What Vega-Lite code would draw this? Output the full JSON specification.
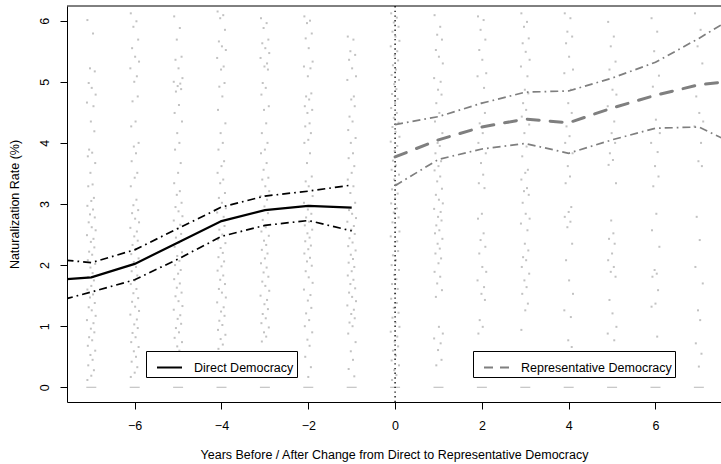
{
  "$schema": "https://vega.github.io/schema/vega-lite/v6.json",
  "width": 654,
  "height": 396,
  "autosize": {"type": "none"},
  "padding": {"left": 67, "top": 6, "right": 0, "bottom": 62},
  "background": "white",
  "config": {
    "view": {"stroke": null},
    "font": "Liberation Sans",
    "axis": {"grid": false, "domainColor": "black", "domainWidth": 1, "tickColor": "black", "tickWidth": 1, "tickSize": 7, "labelColor": "black", "labelFontSize": 12.5, "labelFont": "Liberation Sans", "titleFont": "Liberation Sans", "titleFontSize": 12.5, "titleFontWeight": "normal", "titleColor": "black", "labelFlush": false, "labelOverlap": false, "format": "d"},
    "axisX": {"labelPadding": 10, "titlePadding": 17},
    "axisY": {"labelAngle": -90, "labelAlign": "center", "labelBaseline": "alphabetic", "labelPadding": 12, "titlePadding": 16.5}
  },
  "datasets": {
    "pts": [
{"x":-7.09,"y":6.01},{"x":-6.96,"y":5.79},{"x":-7.03,"y":5.22},{"x":-6.92,"y":5.17},{"x":-7.06,"y":4.98},{"x":-6.99,"y":4.9},{"x":-6.9,"y":4.79},{"x":-7.1,"y":4.66},{"x":-6.95,"y":4.6},{"x":-7.01,"y":4.35},{"x":-6.93,"y":4.19},{"x":-7.05,"y":3.89},{"x":-6.98,"y":3.84},{"x":-7.08,"y":3.78},{"x":-6.91,"y":3.67},{"x":-7.02,"y":3.51},{"x":-6.97,"y":3.32},{"x":-7.07,"y":3.29},{"x":-6.94,"y":3.1},{"x":-7,"y":3.05},
{"x":-7.09,"y":2.97},{"x":-6.96,"y":2.91},{"x":-7.03,"y":2.83},{"x":-6.92,"y":2.78},{"x":-7.06,"y":2.7},{"x":-6.99,"y":2.62},{"x":-6.9,"y":2.57},{"x":-7.1,"y":2.49},{"x":-6.95,"y":2.43},{"x":-7.01,"y":2.38},{"x":-6.93,"y":2.29},{"x":-7.05,"y":2.22},{"x":-6.98,"y":2.17},{"x":-7.08,"y":2.08},{"x":-6.91,"y":2.02},{"x":-7.02,"y":1.96},{"x":-6.97,"y":1.87},{"x":-7.07,"y":1.8},{"x":-6.94,"y":1.75},{"x":-7,"y":1.66},
{"x":-7.09,"y":1.6},{"x":-6.96,"y":1.52},{"x":-7.03,"y":1.47},{"x":-6.92,"y":1.38},{"x":-7.06,"y":1.31},{"x":-6.99,"y":1.26},{"x":-6.9,"y":1.17},{"x":-7.1,"y":1.1},{"x":-6.95,"y":1.05},{"x":-7.01,"y":0.96},{"x":-6.93,"y":0.9},{"x":-7.05,"y":0.82},{"x":-6.98,"y":0.77},{"x":-7.08,"y":0.68},{"x":-6.91,"y":0.6},{"x":-7.02,"y":0.53},{"x":-6.97,"y":0.45},{"x":-7.07,"y":0.36},{"x":-6.94,"y":0.28},{"x":-7,"y":0.19},{"x":-7.09,"y":0.12},
{"x":-6.09,"y":6.12},{"x":-5.96,"y":5.99},{"x":-6.03,"y":5.9},{"x":-5.92,"y":5.69},{"x":-6.06,"y":5.55},{"x":-5.99,"y":5.41},{"x":-5.9,"y":5.33},{"x":-6.1,"y":5.22},{"x":-5.95,"y":5.09},{"x":-6.01,"y":5.0},{"x":-5.93,"y":4.76},{"x":-6.05,"y":4.68},{"x":-5.98,"y":4.35},{"x":-6.08,"y":4.27},{"x":-5.91,"y":4.0},{"x":-6.02,"y":3.94},{"x":-5.97,"y":3.83},{"x":-6.07,"y":3.7},{"x":-5.94,"y":3.51},{"x":-6,"y":3.43},
{"x":-6.09,"y":3.29},{"x":-5.96,"y":3.07},{"x":-6.03,"y":2.98},{"x":-5.92,"y":2.9},{"x":-6.06,"y":2.85},{"x":-5.99,"y":2.76},{"x":-5.9,"y":2.7},{"x":-6.1,"y":2.61},{"x":-5.95,"y":2.55},{"x":-6.01,"y":2.47},{"x":-5.93,"y":2.4},{"x":-6.05,"y":2.33},{"x":-5.98,"y":2.26},{"x":-6.08,"y":2.18},{"x":-5.91,"y":2.11},{"x":-6.02,"y":2.05},{"x":-5.97,"y":1.97},{"x":-6.07,"y":1.9},{"x":-5.94,"y":1.83},{"x":-6,"y":1.75},
{"x":-6.09,"y":1.69},{"x":-5.96,"y":1.61},{"x":-6.03,"y":1.54},{"x":-5.92,"y":1.46},{"x":-6.06,"y":1.4},{"x":-5.99,"y":1.32},{"x":-5.9,"y":1.25},{"x":-6.1,"y":1.19},{"x":-5.95,"y":1.11},{"x":-6.01,"y":1.03},{"x":-5.93,"y":0.97},{"x":-6.05,"y":0.89},{"x":-5.98,"y":0.82},{"x":-6.08,"y":0.74},{"x":-5.91,"y":0.66},{"x":-6.02,"y":0.59},{"x":-5.97,"y":0.5},{"x":-6.07,"y":0.42},{"x":-5.94,"y":0.33},{"x":-6,"y":0.24},{"x":-6.09,"y":0.17},
{"x":-5.09,"y":6.07},{"x":-4.96,"y":5.88},{"x":-5.03,"y":5.69},{"x":-4.92,"y":5.41},{"x":-5.06,"y":5.36},{"x":-4.99,"y":5.22},{"x":-4.9,"y":5.06},{"x":-5.1,"y":5.0},{"x":-4.95,"y":4.97},{"x":-5.01,"y":4.93},{"x":-4.93,"y":4.88},{"x":-5.05,"y":4.84},{"x":-4.98,"y":4.62},{"x":-5.08,"y":4.49},{"x":-4.91,"y":4.35},{"x":-5.02,"y":4.16},{"x":-4.97,"y":4.0},{"x":-5.07,"y":3.89},{"x":-4.94,"y":3.67},{"x":-5,"y":3.51},
{"x":-5.09,"y":3.34},{"x":-4.96,"y":3.21},{"x":-5.03,"y":3.15},{"x":-4.92,"y":3.02},{"x":-5.06,"y":2.95},{"x":-4.99,"y":2.88},{"x":-4.9,"y":2.8},{"x":-5.1,"y":2.73},{"x":-4.95,"y":2.66},{"x":-5.01,"y":2.6},{"x":-4.93,"y":2.51},{"x":-5.05,"y":2.45},{"x":-4.98,"y":2.37},{"x":-5.08,"y":2.3},{"x":-4.91,"y":2.21},{"x":-5.02,"y":2.15},{"x":-4.97,"y":2.07},{"x":-5.07,"y":2.0},{"x":-4.94,"y":1.92},{"x":-5,"y":1.86},
{"x":-5.09,"y":1.77},{"x":-4.96,"y":1.7},{"x":-5.03,"y":1.63},{"x":-4.92,"y":1.55},{"x":-5.06,"y":1.49},{"x":-4.99,"y":1.41},{"x":-4.9,"y":1.33},{"x":-5.1,"y":1.27},{"x":-4.95,"y":1.18},{"x":-5.01,"y":1.12},{"x":-4.93,"y":1.04},{"x":-5.05,"y":0.97},{"x":-4.98,"y":0.9},{"x":-5.08,"y":0.81},{"x":-4.91,"y":0.74},{"x":-5.02,"y":0.67},{"x":-4.97,"y":0.6},
{"x":-4.09,"y":6.15},{"x":-3.96,"y":6.09},{"x":-4.03,"y":6.04},{"x":-3.92,"y":5.85},{"x":-4.06,"y":5.66},{"x":-3.99,"y":5.58},{"x":-3.9,"y":5.52},{"x":-4.1,"y":5.39},{"x":-3.95,"y":5.25},{"x":-4.01,"y":5.2},{"x":-3.93,"y":4.98},{"x":-4.05,"y":4.92},{"x":-3.98,"y":4.76},{"x":-4.08,"y":4.54},{"x":-3.91,"y":4.32},{"x":-4.02,"y":4.16},{"x":-3.97,"y":4.0},{"x":-4.07,"y":3.89},{"x":-3.94,"y":3.7},{"x":-4,"y":3.62},
{"x":-4.09,"y":3.51},{"x":-3.96,"y":3.4},{"x":-4.03,"y":3.34},{"x":-3.92,"y":3.18},{"x":-4.06,"y":3.1},{"x":-3.99,"y":3.02},{"x":-3.9,"y":2.93},{"x":-4.1,"y":2.86},{"x":-3.95,"y":2.79},{"x":-4.01,"y":2.72},{"x":-3.93,"y":2.64},{"x":-4.05,"y":2.58},{"x":-3.98,"y":2.5},{"x":-4.08,"y":2.42},{"x":-3.91,"y":2.36},{"x":-4.02,"y":2.28},{"x":-3.97,"y":2.2},{"x":-4.07,"y":2.13},{"x":-3.94,"y":2.06},{"x":-4,"y":1.98},
{"x":-4.09,"y":1.91},{"x":-3.96,"y":1.83},{"x":-4.03,"y":1.76},{"x":-3.92,"y":1.69},{"x":-4.06,"y":1.61},{"x":-3.99,"y":1.55},{"x":-3.9,"y":1.47},{"x":-4.1,"y":1.39},{"x":-3.95,"y":1.31},{"x":-4.01,"y":1.24},{"x":-3.93,"y":1.17},{"x":-4.05,"y":1.09},{"x":-3.98,"y":1.02},{"x":-4.08,"y":0.94},{"x":-3.91,"y":0.86},{"x":-4.02,"y":0.79},{"x":-3.97,"y":0.7},{"x":-4.07,"y":0.63},
{"x":-3.09,"y":6.04},{"x":-2.96,"y":5.96},{"x":-3.03,"y":5.88},{"x":-2.92,"y":5.69},{"x":-3.06,"y":5.63},{"x":-2.99,"y":5.55},{"x":-2.9,"y":5.47},{"x":-3.1,"y":5.39},{"x":-2.95,"y":5.3},{"x":-3.01,"y":5.25},{"x":-2.93,"y":5.2},{"x":-3.05,"y":4.98},{"x":-2.98,"y":4.9},{"x":-3.08,"y":4.79},{"x":-2.91,"y":4.6},{"x":-3.02,"y":4.54},{"x":-2.97,"y":4.32},{"x":-3.07,"y":4.16},{"x":-2.94,"y":4.0},{"x":-3,"y":3.89},
{"x":-3.09,"y":3.83},{"x":-2.96,"y":3.67},{"x":-3.03,"y":3.56},{"x":-2.92,"y":3.43},{"x":-3.06,"y":3.4},{"x":-2.99,"y":3.29},{"x":-2.9,"y":3.21},{"x":-3.1,"y":3.13},{"x":-2.95,"y":3.07},{"x":-3.01,"y":2.96},{"x":-2.93,"y":2.85},{"x":-3.05,"y":2.74},{"x":-2.98,"y":2.62},{"x":-3.08,"y":2.55},{"x":-2.91,"y":2.48},{"x":-3.02,"y":2.4},{"x":-2.97,"y":2.33},{"x":-3.07,"y":2.25},{"x":-2.94,"y":2.19},{"x":-3,"y":2.11},
{"x":-3.09,"y":2.03},{"x":-2.96,"y":1.96},{"x":-3.03,"y":1.88},{"x":-2.92,"y":1.81},{"x":-3.06,"y":1.73},{"x":-2.99,"y":1.66},{"x":-2.9,"y":1.58},{"x":-3.1,"y":1.5},{"x":-2.95,"y":1.43},{"x":-3.01,"y":1.36},{"x":-2.93,"y":1.28},{"x":-3.05,"y":1.2},{"x":-2.98,"y":1.13},{"x":-3.08,"y":1.05},{"x":-2.91,"y":0.98},{"x":-3.02,"y":0.9},{"x":-2.97,"y":0.83},{"x":-3.07,"y":0.75},
{"x":-2.09,"y":6.07},{"x":-1.96,"y":6.0},{"x":-2.03,"y":5.96},{"x":-1.92,"y":5.79},{"x":-2.06,"y":5.71},{"x":-1.99,"y":5.55},{"x":-1.9,"y":5.33},{"x":-2.1,"y":5.25},{"x":-1.95,"y":5.22},{"x":-2.01,"y":5.09},{"x":-1.93,"y":4.81},{"x":-2.05,"y":4.76},{"x":-1.98,"y":4.71},{"x":-2.08,"y":4.6},{"x":-1.91,"y":4.54},{"x":-2.02,"y":4.49},{"x":-1.97,"y":4.32},{"x":-2.07,"y":4.27},{"x":-1.94,"y":4.16},{"x":-2,"y":4.05},
{"x":-2.09,"y":4.0},{"x":-1.96,"y":3.83},{"x":-2.03,"y":3.67},{"x":-1.92,"y":3.45},{"x":-2.06,"y":3.37},{"x":-1.99,"y":3.29},{"x":-1.9,"y":3.13},{"x":-2.1,"y":3.02},{"x":-1.95,"y":2.97},{"x":-2.01,"y":2.91},{"x":-1.93,"y":2.84},{"x":-2.05,"y":2.78},{"x":-1.98,"y":2.71},{"x":-2.08,"y":2.65},{"x":-1.91,"y":2.58},{"x":-2.02,"y":2.52},{"x":-1.97,"y":2.45},{"x":-2.07,"y":2.39},{"x":-1.94,"y":2.32},{"x":-2,"y":2.26},
{"x":-2.09,"y":2.19},{"x":-1.96,"y":2.12},{"x":-2.03,"y":2.06},{"x":-1.92,"y":1.99},{"x":-2.06,"y":1.9},{"x":-1.99,"y":1.8},{"x":-1.9,"y":1.71},{"x":-2.1,"y":1.6},{"x":-1.95,"y":1.51},{"x":-2.01,"y":1.42},{"x":-1.93,"y":1.3},{"x":-2.05,"y":1.21},{"x":-1.98,"y":1.1},{"x":-2.08,"y":1.0},{"x":-1.91,"y":0.9},{"x":-2.02,"y":0.78},{"x":-1.97,"y":0.68},{"x":-2.07,"y":0.5},{"x":-1.94,"y":0.33},{"x":-2,"y":0.17},
{"x":-1.09,"y":5.74},{"x":-0.96,"y":5.69},{"x":-1.03,"y":5.5},{"x":-0.92,"y":5.44},{"x":-1.06,"y":5.36},{"x":-0.99,"y":5.22},{"x":-0.9,"y":5.09},{"x":-1.1,"y":5.03},{"x":-0.95,"y":4.76},{"x":-1.01,"y":4.71},{"x":-0.93,"y":4.6},{"x":-1.05,"y":4.43},{"x":-0.98,"y":4.35},{"x":-1.08,"y":4.21},{"x":-0.91,"y":4.08},{"x":-1.02,"y":4.0},{"x":-0.97,"y":3.83},{"x":-1.07,"y":3.75},{"x":-0.94,"y":3.62},{"x":-1,"y":3.51},
{"x":-1.09,"y":3.4},{"x":-0.96,"y":3.29},{"x":-1.03,"y":3.18},{"x":-0.92,"y":3.02},{"x":-1.06,"y":2.9},{"x":-0.99,"y":2.84},{"x":-0.9,"y":2.77},{"x":-1.1,"y":2.71},{"x":-0.95,"y":2.64},{"x":-1.01,"y":2.58},{"x":-0.93,"y":2.51},{"x":-1.05,"y":2.44},{"x":-0.98,"y":2.37},{"x":-1.08,"y":2.31},{"x":-0.91,"y":2.24},{"x":-1.02,"y":2.17},{"x":-0.97,"y":2.1},{"x":-1.07,"y":2.04},{"x":-0.94,"y":1.97},{"x":-1,"y":1.9},
{"x":-1.09,"y":1.83},{"x":-0.96,"y":1.76},{"x":-1.03,"y":1.69},{"x":-0.92,"y":1.62},{"x":-1.06,"y":1.55},{"x":-0.99,"y":1.48},{"x":-0.9,"y":1.41},{"x":-1.1,"y":1.34},{"x":-0.95,"y":1.27},{"x":-1.01,"y":1.2},{"x":-0.93,"y":1.13},{"x":-1.05,"y":1.06},{"x":-0.98,"y":1.0},{"x":-1.08,"y":0.88},{"x":-0.91,"y":0.74},{"x":-1.02,"y":0.59},{"x":-0.97,"y":0.45},{"x":-1.07,"y":0.3},{"x":-0.94,"y":0.18},
{"x":-0.09,"y":6.12},{"x":0.04,"y":6.05},{"x":-0.03,"y":5.97},{"x":0.08,"y":5.9},{"x":-0.06,"y":5.82},{"x":0.01,"y":5.74},{"x":0.1,"y":5.67},{"x":-0.1,"y":5.58},{"x":0.05,"y":5.5},{"x":-0.01,"y":5.43},{"x":0.07,"y":5.35},{"x":-0.05,"y":5.27},{"x":0.02,"y":5.2},{"x":-0.08,"y":5.11},{"x":0.09,"y":5.03},{"x":-0.02,"y":4.96},{"x":0.03,"y":4.88},{"x":-0.07,"y":4.8},{"x":0.06,"y":4.72},{"x":0,"y":4.65},
{"x":-0.09,"y":4.57},{"x":0.04,"y":4.49},{"x":-0.03,"y":4.41},{"x":0.08,"y":4.33},{"x":-0.06,"y":4.26},{"x":0.01,"y":4.18},{"x":0.1,"y":4.1},{"x":-0.1,"y":4.02},{"x":0.05,"y":3.95},{"x":-0.01,"y":3.87},{"x":0.07,"y":3.79},{"x":-0.05,"y":3.71},{"x":0.02,"y":3.63},{"x":-0.08,"y":3.56},{"x":0.09,"y":3.48},{"x":-0.02,"y":3.4},{"x":0.03,"y":3.32},{"x":-0.07,"y":3.24},{"x":0.06,"y":3.17},{"x":0,"y":3.09},
{"x":-0.09,"y":3.01},{"x":0.04,"y":2.93},{"x":-0.03,"y":2.86},{"x":0.08,"y":2.78},{"x":-0.06,"y":2.7},{"x":0.01,"y":2.62},{"x":0.1,"y":2.55},{"x":-0.1,"y":2.47},{"x":0.05,"y":2.39},{"x":-0.01,"y":2.31},{"x":0.07,"y":2.23},{"x":-0.05,"y":2.16},{"x":0.02,"y":2.08},{"x":-0.08,"y":2.0},{"x":0.09,"y":1.92},{"x":-0.02,"y":1.84},{"x":0.03,"y":1.77},{"x":-0.07,"y":1.69},{"x":0.06,"y":1.61},{"x":0,"y":1.53},
{"x":-0.09,"y":1.45},{"x":0.04,"y":1.38},{"x":-0.03,"y":1.3},{"x":0.08,"y":1.22},{"x":-0.06,"y":1.14},{"x":0.01,"y":1.06},{"x":0.1,"y":0.99},{"x":-0.1,"y":0.91},{"x":0.05,"y":0.83},{"x":-0.01,"y":0.75},{"x":0.07,"y":0.67},{"x":-0.05,"y":0.6},{"x":0.02,"y":0.52},{"x":-0.08,"y":0.44},{"x":0.09,"y":0.36},{"x":-0.02,"y":0.28},{"x":0.03,"y":0.2},{"x":-0.07,"y":0.12},
{"x":0.91,"y":6.09},{"x":1.04,"y":5.9},{"x":0.97,"y":5.77},{"x":1.08,"y":5.69},{"x":0.94,"y":5.52},{"x":1.01,"y":5.41},{"x":1.1,"y":5.3},{"x":0.9,"y":5.06},{"x":1.05,"y":5.0},{"x":0.99,"y":4.87},{"x":1.07,"y":4.79},{"x":0.95,"y":4.65},{"x":1.02,"y":4.49},{"x":0.92,"y":4.35},{"x":1.09,"y":4.16},{"x":0.98,"y":4.0},{"x":1.03,"y":3.95},{"x":0.93,"y":3.83},{"x":1.06,"y":3.7},{"x":1,"y":3.62},
{"x":0.91,"y":3.55},{"x":1.04,"y":3.45},{"x":0.97,"y":3.37},{"x":1.08,"y":3.25},{"x":0.94,"y":3.15},{"x":1.01,"y":3.07},{"x":1.1,"y":3.01},{"x":0.9,"y":2.92},{"x":1.05,"y":2.87},{"x":0.99,"y":2.79},{"x":1.07,"y":2.73},{"x":0.95,"y":2.65},{"x":1.02,"y":2.57},{"x":0.92,"y":2.52},{"x":1.09,"y":2.43},{"x":0.98,"y":2.35},{"x":1.03,"y":2.27},{"x":0.93,"y":2.19},{"x":1.06,"y":2.11},{"x":1,"y":2.03},
{"x":0.91,"y":1.89},{"x":1.04,"y":1.81},{"x":0.97,"y":1.7},{"x":1.08,"y":1.59},{"x":0.94,"y":1.48},{"x":1.01,"y":0.99},{"x":1.1,"y":0.88},{"x":0.9,"y":0.8},{"x":1.05,"y":0.72},{"x":0.99,"y":0.61},{"x":1.07,"y":0.45},{"x":0.95,"y":0.36},
{"x":1.91,"y":6.07},{"x":2.04,"y":6.01},{"x":1.97,"y":5.85},{"x":2.08,"y":5.69},{"x":1.94,"y":5.52},{"x":2.01,"y":5.36},{"x":2.1,"y":5.14},{"x":1.9,"y":5.09},{"x":2.05,"y":4.9},{"x":1.99,"y":4.65},{"x":2.07,"y":4.49},{"x":1.95,"y":4.32},{"x":2.02,"y":4.16},{"x":1.92,"y":4.0},{"x":2.09,"y":3.83},{"x":1.98,"y":3.67},{"x":2.03,"y":3.48},{"x":1.93,"y":3.34},{"x":2.06,"y":3.26},{"x":2,"y":2.84},
{"x":1.91,"y":2.76},{"x":2.04,"y":2.52},{"x":1.97,"y":2.41},{"x":2.08,"y":2.3},{"x":1.94,"y":2.19},{"x":2.01,"y":1.97},{"x":2.1,"y":1.89},{"x":1.9,"y":1.75},{"x":2.05,"y":1.64},{"x":1.99,"y":1.53},{"x":2.07,"y":1.43},{"x":1.95,"y":1.1},{"x":2.02,"y":0.99},{"x":1.92,"y":0.88},
{"x":2.91,"y":6.12},{"x":3.04,"y":5.98},{"x":2.97,"y":5.9},{"x":3.08,"y":5.71},{"x":2.94,"y":5.63},{"x":3.01,"y":5.49},{"x":3.1,"y":5.36},{"x":2.9,"y":5.25},{"x":3.05,"y":5.09},{"x":2.99,"y":4.87},{"x":3.07,"y":4.81},{"x":2.95,"y":4.65},{"x":3.02,"y":4.54},{"x":2.92,"y":4.43},{"x":3.09,"y":4.3},{"x":2.98,"y":4.16},{"x":3.03,"y":3.94},{"x":2.93,"y":3.78},{"x":3.06,"y":3.56},{"x":3,"y":3.51},
{"x":2.91,"y":3.4},{"x":3.04,"y":3.26},{"x":2.97,"y":3.21},{"x":3.08,"y":3.15},{"x":2.94,"y":3.02},{"x":3.01,"y":2.84},{"x":3.1,"y":2.76},{"x":2.9,"y":2.68},{"x":3.05,"y":2.57},{"x":2.99,"y":2.35},{"x":3.07,"y":2.24},{"x":2.95,"y":2.13},{"x":3.02,"y":2.08},{"x":2.92,"y":1.97},{"x":3.09,"y":1.86},{"x":2.98,"y":1.75},{"x":3.03,"y":1.64},{"x":2.93,"y":1.53},{"x":3.06,"y":1.37},{"x":3,"y":1.26},{"x":2.91,"y":0.94},
{"x":3.91,"y":6.12},{"x":4.04,"y":6.04},{"x":3.97,"y":5.82},{"x":4.08,"y":5.74},{"x":3.94,"y":5.63},{"x":4.01,"y":5.41},{"x":4.1,"y":5.2},{"x":3.9,"y":5.14},{"x":4.05,"y":4.87},{"x":3.99,"y":4.65},{"x":4.07,"y":4.49},{"x":3.95,"y":4.27},{"x":4.02,"y":4.11},{"x":3.92,"y":4.0},{"x":4.09,"y":3.83},{"x":3.98,"y":3.62},{"x":4.03,"y":3.45},{"x":3.93,"y":3.34},{"x":4.06,"y":2.95},{"x":4,"y":2.87},
{"x":3.91,"y":2.79},{"x":4.04,"y":2.71},{"x":3.97,"y":2.62},{"x":4.08,"y":2.35},{"x":3.94,"y":2.08},{"x":4.01,"y":1.75},{"x":4.1,"y":1.53},{"x":3.9,"y":1.26},{"x":4.05,"y":1.15},{"x":3.99,"y":0.77},{"x":4.07,"y":0.66},
{"x":4.91,"y":5.98},{"x":5.04,"y":5.74},{"x":4.97,"y":5.58},{"x":5.08,"y":5.33},{"x":4.94,"y":5.2},{"x":5.01,"y":4.87},{"x":5.1,"y":4.79},{"x":4.9,"y":4.6},{"x":5.05,"y":4.35},{"x":4.99,"y":4.16},{"x":5.07,"y":4.0},{"x":4.95,"y":3.83},{"x":5.02,"y":3.72},{"x":4.92,"y":3.64},{"x":5.09,"y":3.34},{"x":4.98,"y":2.73},{"x":5.03,"y":2.52},{"x":4.93,"y":2.43},{"x":5.06,"y":2.35},{"x":5,"y":2.19},
{"x":4.91,"y":2.08},{"x":5.04,"y":1.97},{"x":4.97,"y":1.89},{"x":5.08,"y":1.81},{"x":4.94,"y":1.43},{"x":5.01,"y":1.21},{"x":5.1,"y":0.99},{"x":4.9,"y":0.88},{"x":5.05,"y":0.77},
{"x":5.91,"y":6.04},{"x":6.04,"y":5.82},{"x":5.97,"y":5.5},{"x":6.08,"y":5.1},{"x":5.94,"y":4.92},{"x":6.01,"y":4.38},{"x":6.1,"y":4.16},{"x":5.9,"y":4.0},{"x":6.05,"y":3.85},{"x":5.99,"y":3.62},{"x":6.07,"y":3.45},{"x":5.95,"y":3.29},{"x":6.02,"y":2.84},{"x":5.92,"y":2.57},{"x":6.09,"y":2.3},{"x":5.98,"y":1.92},{"x":6.03,"y":1.86},{"x":5.93,"y":1.81},{"x":6.06,"y":1.59},{"x":6,"y":1.37},{"x":5.91,"y":1.32},{"x":6.04,"y":0.83},
{"x":6.91,"y":6.12},{"x":7.04,"y":5.85},{"x":6.97,"y":5.58},{"x":7.08,"y":5.3},{"x":6.94,"y":4.76},{"x":7.01,"y":4.49},{"x":7.1,"y":4.35},{"x":6.9,"y":4.27},{"x":7.05,"y":4.0},{"x":6.99,"y":3.7},{"x":7.07,"y":3.62},{"x":6.95,"y":2.79},{"x":7.02,"y":2.41},{"x":6.92,"y":1.97},{"x":7.09,"y":1.7},{"x":6.98,"y":1.26},{"x":7.03,"y":1.1},{"x":6.93,"y":0.72},{"x":7.06,"y":0.55},{"x":7,"y":0.34}
    ],
    "zero": [
      {"x": -7, "y": 0}, {"x": -6, "y": 0}, {"x": -5, "y": 0}, {"x": -4, "y": 0}, {"x": -3, "y": 0}, {"x": -2, "y": 0}, {"x": -1, "y": 0}, {"x": 0, "y": 0}, {"x": 1, "y": 0}, {"x": 2, "y": 0}, {"x": 3, "y": 0}, {"x": 4, "y": 0}, {"x": 5, "y": 0}, {"x": 6, "y": 0}, {"x": 7, "y": 0}
    ],
    "dd": [
      {"x": -8, "fit": 1.75, "lo": 1.37, "hi": 2.11},
      {"x": -7, "fit": 1.8, "lo": 1.56, "hi": 2.04},
      {"x": -6, "fit": 2.02, "lo": 1.76, "hi": 2.25},
      {"x": -5, "fit": 2.37, "lo": 2.1, "hi": 2.6},
      {"x": -4, "fit": 2.72, "lo": 2.47, "hi": 2.95},
      {"x": -3, "fit": 2.9, "lo": 2.65, "hi": 3.13},
      {"x": -2, "fit": 2.97, "lo": 2.73, "hi": 3.21},
      {"x": -1, "fit": 2.94, "lo": 2.56, "hi": 3.31}
    ],
    "rd": [
      {"x": 0, "fit": 3.77, "lo": 3.3, "hi": 4.3},
      {"x": 1, "fit": 4.05, "lo": 3.73, "hi": 4.43},
      {"x": 2, "fit": 4.26, "lo": 3.9, "hi": 4.65},
      {"x": 3, "fit": 4.39, "lo": 3.99, "hi": 4.83},
      {"x": 4, "fit": 4.33, "lo": 3.83, "hi": 4.85},
      {"x": 5, "fit": 4.57, "lo": 4.05, "hi": 5.06},
      {"x": 6, "fit": 4.78, "lo": 4.24, "hi": 5.32},
      {"x": 7, "fit": 4.95, "lo": 4.26, "hi": 5.71},
      {"x": 8, "fit": 5.03, "lo": 3.92, "hi": 6.14}
    ],
    "one": [{"x0": 0, "ytop": 6.24}]
  },
  "layer": [
    {
      "data": {"name": "pts"},
      "mark": {"type": "square", "size": 4, "color": "#c2c2c2", "opacity": 1},
      "encoding": {
        "x": {"field": "x", "type": "quantitative", "scale": {"domain": [-7.56, 7.51], "nice": false, "zero": false}, "axis": {"values": [-6, -4, -2, 0, 2, 4, 6]}, "title": "Years Before / After Change from Direct to Representative Democracy"},
        "y": {"field": "y", "type": "quantitative", "scale": {"domain": [-0.24, 6.24], "nice": false, "zero": false}, "axis": {"values": [0, 1, 2, 3, 4, 5, 6]}, "title": "Naturalization Rate (%)"}
      }
    },
    {
      "data": {"name": "zero"},
      "mark": {"type": "tick", "orient": "horizontal", "size": 10, "thickness": 1.3, "color": "#c8c8c8", "opacity": 1},
      "encoding": {
        "x": {"field": "x", "type": "quantitative"},
        "y": {"field": "y", "type": "quantitative"}
      }
    },
    {
      "data": {"name": "one"},
      "mark": {"type": "rule", "color": "black", "strokeWidth": 1.3, "strokeDash": [1.4, 3.3]},
      "encoding": {"x": {"field": "x0", "type": "quantitative"}}
    },
    {
      "data": {"name": "dd"},
      "mark": {"type": "line", "color": "black", "strokeWidth": 1.7, "strokeDash": [8, 4, 1.7, 4], "clip": true},
      "encoding": {"x": {"field": "x", "type": "quantitative"}, "y": {"field": "hi", "type": "quantitative"}}
    },
    {
      "data": {"name": "dd"},
      "mark": {"type": "line", "color": "black", "strokeWidth": 1.7, "strokeDash": [8, 4, 1.7, 4], "clip": true},
      "encoding": {"x": {"field": "x", "type": "quantitative"}, "y": {"field": "lo", "type": "quantitative"}}
    },
    {
      "data": {"name": "rd"},
      "mark": {"type": "line", "color": "#7f7f7f", "strokeWidth": 1.7, "strokeDash": [8, 4, 1.7, 4], "clip": true},
      "encoding": {"x": {"field": "x", "type": "quantitative"}, "y": {"field": "hi", "type": "quantitative"}}
    },
    {
      "data": {"name": "rd"},
      "mark": {"type": "line", "color": "#7f7f7f", "strokeWidth": 1.7, "strokeDash": [8, 4, 1.7, 4], "clip": true},
      "encoding": {"x": {"field": "x", "type": "quantitative"}, "y": {"field": "lo", "type": "quantitative"}}
    },
    {
      "data": {"name": "dd"},
      "mark": {"type": "line", "strokeWidth": 2.2, "clip": true},
      "encoding": {
        "x": {"field": "x", "type": "quantitative"},
        "y": {"field": "fit", "type": "quantitative"},
        "color": {"datum": "Direct Democracy", "scale": {"domain": ["Direct Democracy"], "range": ["black"]},
          "legend": {"orient": "none", "legendX": 79, "legendY": 345, "title": null, "symbolType": "stroke", "symbolSize": 625, "symbolStrokeWidth": 2, "labelFontSize": 12.5, "labelFont": "Liberation Sans", "labelColor": "black", "fillColor": "white", "strokeColor": "black", "padding": 3, "labelOffset": 11, "symbolOffset": 7}}
      }
    },
    {
      "data": {"name": "rd"},
      "mark": {"type": "line", "color": "#7f7f7f", "strokeWidth": 3, "strokeCap": "round", "strokeDash": [12, 11], "clip": true},
      "encoding": {
        "x": {"field": "x", "type": "quantitative"},
        "y": {"field": "fit", "type": "quantitative"},
        "opacity": {"datum": "Representative Democracy", "scale": {"type": "ordinal", "domain": ["Representative Democracy"], "range": [1]},
          "legend": {"orient": "none", "legendX": 406, "legendY": 345, "title": null, "symbolType": "stroke", "symbolSize": 625, "symbolStrokeWidth": 2, "symbolStrokeColor": "#7f7f7f", "symbolDash": [9, 7], "labelFontSize": 12.5, "labelFont": "Liberation Sans", "labelColor": "black", "fillColor": "white", "strokeColor": "black", "padding": 3, "labelOffset": 11, "symbolOffset": 7}}
      }
    },
    {
      "data": {"name": "one"},
      "mark": {"type": "rule", "color": "black", "strokeWidth": 1},
      "encoding": {"y": {"field": "ytop", "type": "quantitative"}}
    }
  ]
}
